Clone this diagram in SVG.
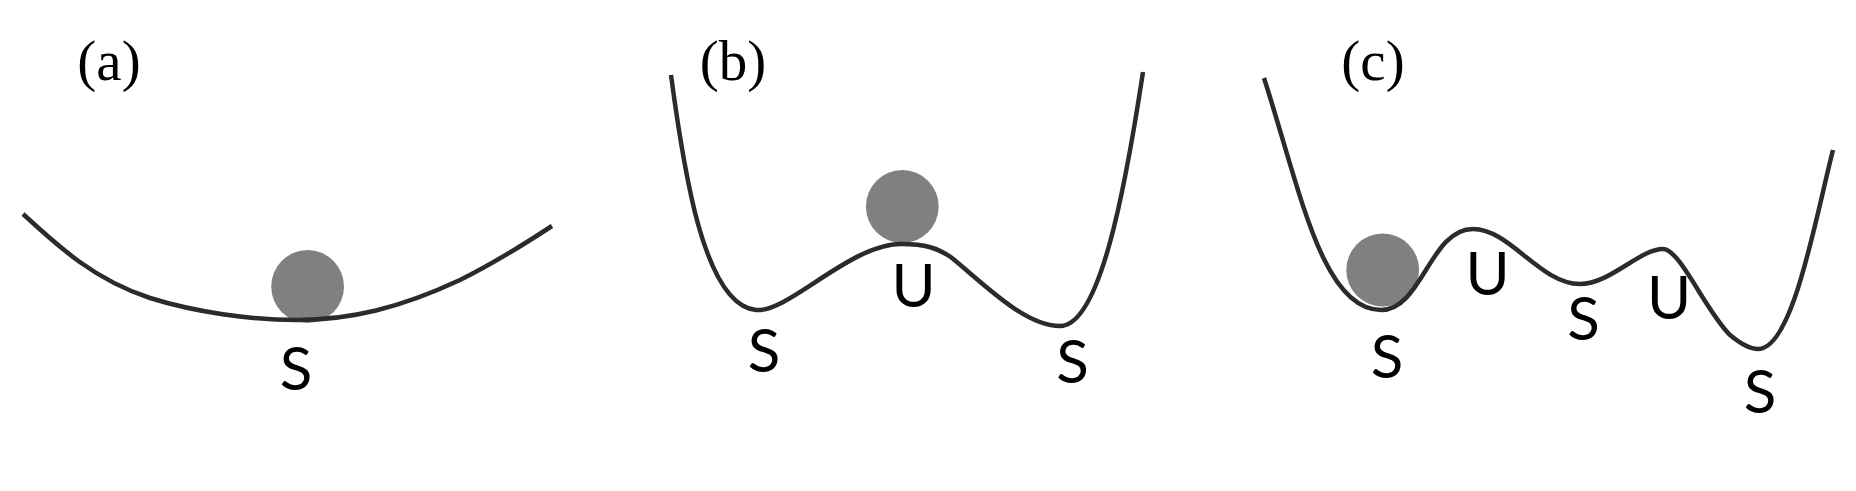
<svg xmlns="http://www.w3.org/2000/svg" width="1856" height="491" viewBox="0 0 1856 491">
<style>
.curve{fill:none;stroke:#2b2b2b;stroke-width:4.5}
.ball{fill:#808080}
.panel{font-family:"Liberation Serif",serif;font-size:57px;fill:#000;text-anchor:middle}
.state{font-family:"Lato",sans-serif;font-size:60px;fill:#000;text-anchor:middle}
</style>
<rect width="1856" height="491" fill="#fff"/>
<g id="panel-a">
<text class="panel" x="109" y="80">(a)</text>
<circle class="ball" cx="307.6" cy="286.5" r="36.4"/>
<text class="state" x="296" y="390">S</text>
</g>
<g id="panel-b">
<text class="panel" x="733" y="80">(b)</text>
<circle class="ball" cx="902.3" cy="206.5" r="36.4"/>
<text class="state" x="764" y="372">S</text>
<text class="state" x="913.5" y="307">U</text>
<text class="state" x="1072.5" y="383">S</text>
</g>
<g id="panel-c">
<text class="panel" x="1373" y="80">(c)</text>
<circle class="ball" cx="1382.7" cy="270" r="36.4"/>
<text class="state" x="1387" y="378">S</text>
<text class="state" x="1487.5" y="295">U</text>
<text class="state" x="1583.5" y="340">S</text>
<text class="state" x="1669" y="319">U</text>
<text class="state" x="1760" y="413">S</text>
</g>
<g id="connectors">
<path class="curve" d="M23 214C60 248 95 280 150 298C195 312 250 320 297 320C350 320 400 308 460 280C490 265 520 247 552 226"/>
<path class="curve" d="M671 75C683 165 703 305 756 310C788 313 850 244 901 244C925 244 938 248 952 258C985 285 1025 326 1060 326C1100 326 1125 190 1143 72"/>
<path class="curve" d="M1264 78C1300 190 1322 310 1381 310C1422 310 1430 229 1473 229C1510 229 1540 284 1580 284C1610 284 1640 249 1663 249C1680 249 1705 310 1730 335C1742 345 1750 349 1758 349C1793 349 1815 220 1833 150"/>
</g>
</svg>
